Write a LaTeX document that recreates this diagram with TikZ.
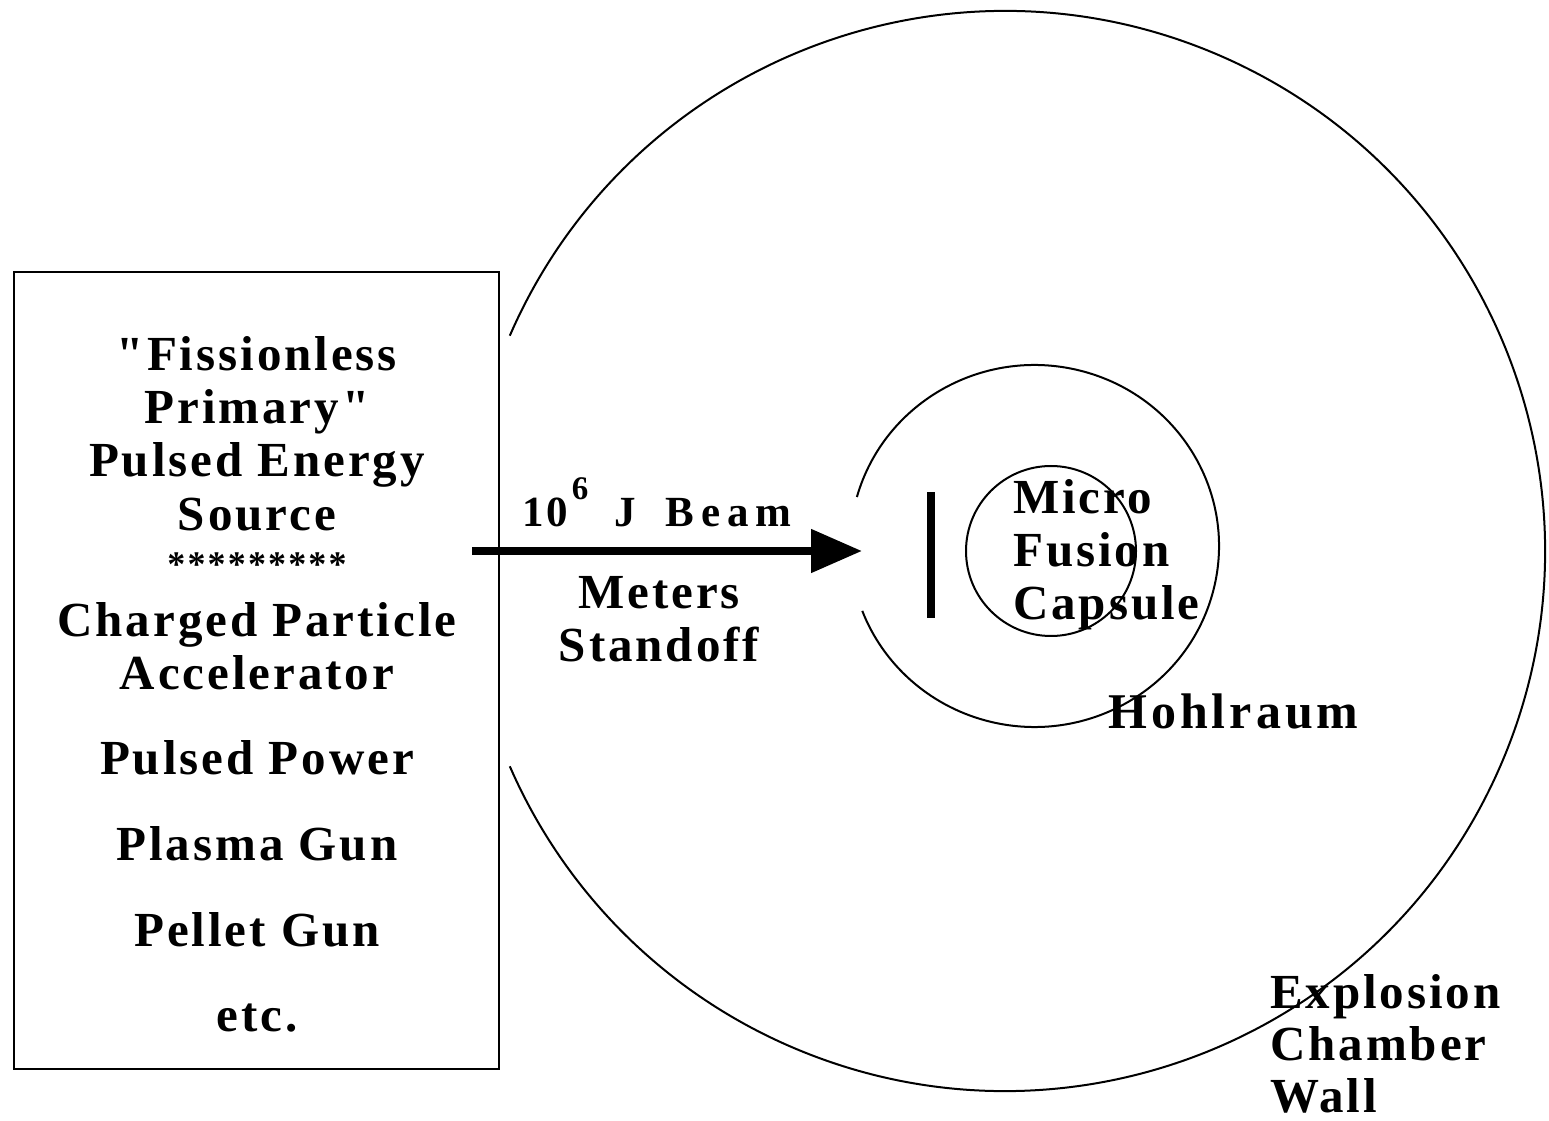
\documentclass[tikz,border=0pt]{standalone}
\usepackage{fontspec}
\setmainfont{Liberation Serif}[LetterSpace=6, Ligatures=TeXOff]
\usetikzlibrary{positioning}
\usetikzlibrary{arrows.meta}

\begin{document}
\begin{tikzpicture}[x=1pt,y=1pt,
                    every node/.style={font=\fontsize{49}{53}\selectfont\bfseries, inner sep=0pt},
                    wall/.style={line width=2pt},
                    label/.style={anchor=base west, align=left}]
    \useasboundingbox (0,0) rectangle (1549,1120);

    \coordinate (chamber) at (1005,569);
    \coordinate (hohlraum) at (1034.5,574);
    \coordinate (capsule) at (1051,569);

    % chamber wall, hohlraum and capsule
    \draw[wall] (chamber) ++(156.5:540) arc[start angle=156.5, end angle=-156.5, radius=540];
    \draw[wall] (hohlraum) ++(164.3:184.5 and 181) arc[start angle=164.3, end angle=-159, x radius=184.5, y radius=181];
    \draw[wall] (capsule) circle[radius=85];
    \draw[line width=8pt] (931,502) -- (931,628);

    % energy source box (base anchor = last line)
    \draw[line width=2.5pt] (14,51) rectangle (499,848);
    \node (source) [anchor=base, align=center] at (257,431)
      {"Fissionless\\ Primary"\\ Pulsed Energy\\ Source\\
       {\fontsize{36}{53}\selectfont\raisebox{6pt}{*********}}\\ Charged Particle\\ Accelerator};

    \foreach \y/\txt [count=\i] in {346/Pulsed Power, 260/Plasma Gun, 174/Pellet Gun, 89/etc.} {
      \node (alt\i) [anchor=base] at (257,\y) {\txt};
    }

    % beam
    \coordinate (gun) at (472,569);
    \coordinate (target) at (862,569);
    \draw[line width=8pt, -{Triangle[length=51pt,width=42pt]}] (gun) -- (target);
    \node (beam) [anchor=base, font=\fontsize{43}{48}\selectfont\bfseries] at (657,593)
      {10\hspace{4pt}\raisebox{27pt}{\fontsize{33}{33}\selectfont 6}\hspace{26pt}J\hspace{30pt}\addfontfeature{LetterSpace=16}Beam};
    \node (standoff) [anchor=base, align=center] at (659,458) {Meters\\ Standoff};

    \node (capsuletxt) [label] at (1013,500) {Micro\\ Fusion\\ Capsule};
    \node (hohlraumtxt) [label, font=\fontsize{50}{53}\selectfont\bfseries\addfontfeature{LetterSpace=8}] at (1108,392) {Hohlraum};
    \node (walltxt) [label, font=\fontsize{49}{52}\selectfont\bfseries] at (1270,8)
      {Explosion\\ Chamber\\ Wall};
\end{tikzpicture}
\end{document}
